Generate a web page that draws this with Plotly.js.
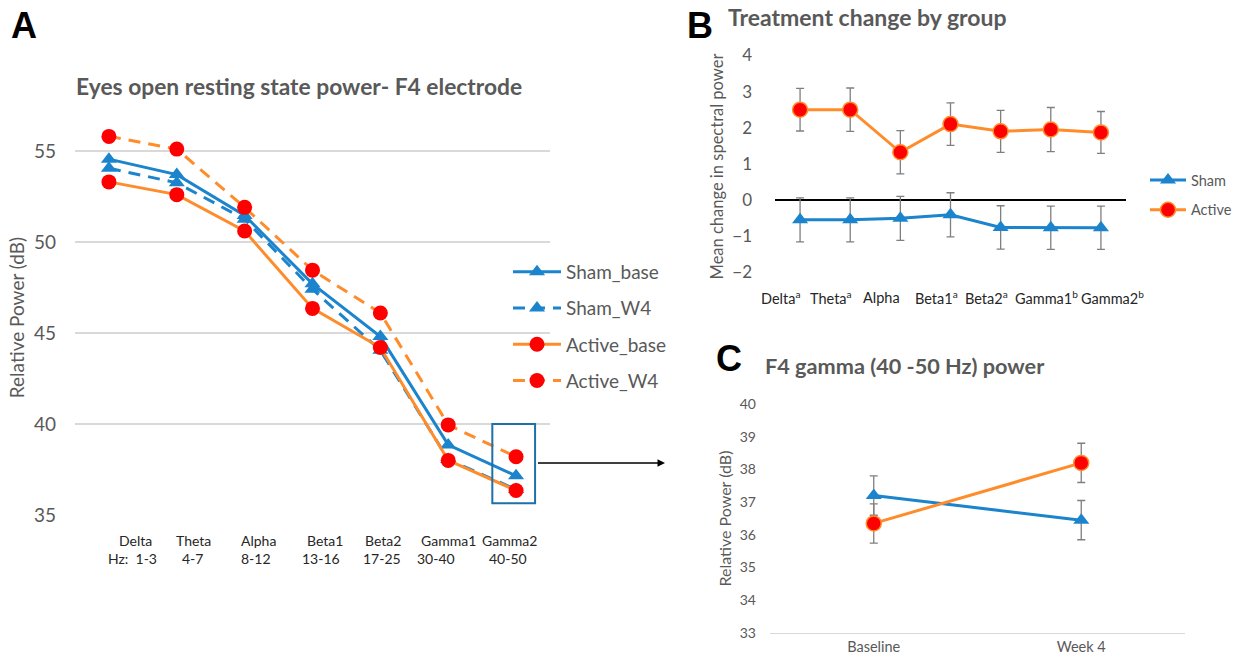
<!DOCTYPE html>
<html>
<head>
<meta charset="utf-8">
<script src="https://cdn.plot.ly/plotly-3.0.1.min.js"></script>
<style>
  html, body { margin: 0; padding: 0; background: #ffffff; }
  #chart { width: 1243px; height: 665px; }
</style>
</head>
<body>
<div id="chart"></div>
<script>
// ---------- DATA ----------
// Panel A
const bands = ['Delta', 'Theta', 'Alpha', 'Beta1', 'Beta2', 'Gamma1', 'Gamma2'];
const bandHz = ['Hz:  1-3', '4-7', '8-12', '13-16', '17-25', '30-40', '40-50'];
const shamBase   = [54.55, 53.7, 51.45, 47.7, 44.8, 38.85, 37.15];
const shamW4     = [54.05, 53.25, 51.25, 47.4, 44.05, 38.05, 36.4];
const activeBase = [53.3, 52.6, 50.6, 46.35, 44.2, 38.0, 36.35];
const activeW4   = [55.8, 55.1, 51.9, 48.45, 46.1, 39.95, 38.2];
const yTicksA = [35, 40, 45, 50, 55];

// Panel B
const bandLabelsB = ['Delta<sup>a</sup>', 'Theta<sup>a</sup>', 'Alpha', 'Beta1<sup>a</sup>', 'Beta2<sup>a</sup>', 'Gamma1<sup>b</sup>', 'Gamma2<sup>b</sup>'];
const shamChange   = [-0.55, -0.55, -0.51, -0.41, -0.76, -0.77, -0.77];
const shamChangeErr = [0.61, 0.61, 0.61, 0.61, 0.6, 0.6, 0.6];
const activeChange = [2.5, 2.5, 1.32, 2.1, 1.9, 1.95, 1.87];
const activeChangeErr = [0.59, 0.6, 0.6, 0.59, 0.58, 0.61, 0.58];
const yTicksB = [-2, -1, 0, 1, 2, 3, 4];

// Panel C
const timepoints = ['Baseline', 'Week 4'];
const shamGamma = [37.2, 36.45];
const shamGammaErr = [0.6, 0.6];
const activeGamma = [36.35, 38.2];
const activeGammaErr = [0.6, 0.6];
const yTicksC = [33, 34, 35, 36, 37, 38, 39, 40];

// ---------- STYLE / LAYOUT HELPERS ----------
const W = 1243, H = 665;
const px = v => v / W;          // pixel x -> paper
const py = v => 1 - v / H;      // pixel y -> paper
const BLUE = '#1b84cc';
const ORANGE = '#ff8c2b';
const RED = '#ff0000';
const GRAY = '#595959';
const ERR = '#7f7f7f';
const FONT = 'Lato, "Open Sans", sans-serif';

// label centres (pixels) for the hand-placed category text
const nameXA = [135, 193, 258.7, 325, 383, 448, 509];
const hzXA   = [132.5, 192.5, 256, 321, 382, 436, 507.5];
const nameXB = [780, 831, 881.5, 937, 986, 1046, 1112];

const triMarker = {symbol: 'triangle-up', size: 14, color: BLUE};
const dotMarkerA = {symbol: 'circle', size: 15, color: RED};
const dotMarkerB = {symbol: 'circle', size: 15, color: RED, line: {color: ORANGE, width: 1.5}};

const traces = [
  // Panel A
  {x: bands, y: shamBase, name: 'Sham_base', type: 'scatter', mode: 'lines+markers',
   line: {color: BLUE, width: 3}, marker: triMarker, xaxis: 'x', yaxis: 'y', legend: 'legend', legendgroup: 'a1'},
  {x: bands, y: shamW4, name: 'Sham_W4', type: 'scatter', mode: 'lines+markers',
   line: {color: BLUE, width: 3, dash: '12px,8px'}, marker: triMarker, xaxis: 'x', yaxis: 'y', legend: 'legend', legendgroup: 'a2'},
  {x: bands, y: activeBase, name: 'Active_base', type: 'scatter', mode: 'lines+markers',
   line: {color: ORANGE, width: 3}, marker: dotMarkerA, xaxis: 'x', yaxis: 'y', legend: 'legend', legendgroup: 'a3'},
  {x: bands, y: activeW4, name: 'Active_W4', type: 'scatter', mode: 'lines+markers',
   line: {color: ORANGE, width: 3, dash: '12px,8px'}, marker: dotMarkerA, xaxis: 'x', yaxis: 'y', legend: 'legend', legendgroup: 'a4'},
  // Panel B
  {x: bands, y: shamChange, name: 'Sham', type: 'scatter', mode: 'lines+markers',
   error_y: {type: 'data', array: shamChangeErr, color: ERR, thickness: 1.3, width: 4},
   line: {color: BLUE, width: 3}, marker: triMarker, xaxis: 'x2', yaxis: 'y2', legend: 'legend2', legendgroup: 'b1'},
  {x: bands, y: activeChange, name: 'Active', type: 'scatter', mode: 'lines+markers',
   error_y: {type: 'data', array: activeChangeErr, color: ERR, thickness: 1.3, width: 4},
   line: {color: ORANGE, width: 3}, marker: dotMarkerB, xaxis: 'x2', yaxis: 'y2', legend: 'legend2', legendgroup: 'b2'},
  // Panel C
  {x: timepoints, y: shamGamma, name: 'Sham', type: 'scatter', mode: 'lines+markers', showlegend: false,
   error_y: {type: 'data', array: shamGammaErr, color: ERR, thickness: 1.3, width: 4},
   line: {color: BLUE, width: 3}, marker: triMarker, xaxis: 'x3', yaxis: 'y3'},
  {x: timepoints, y: activeGamma, name: 'Active', type: 'scatter', mode: 'lines+markers', showlegend: false,
   error_y: {type: 'data', array: activeGammaErr, color: ERR, thickness: 1.3, width: 4},
   line: {color: ORANGE, width: 3}, marker: dotMarkerB, xaxis: 'x3', yaxis: 'y3'}
];

const annotations = [];
// panel letters
[['A', 9, 25], ['B', 685, 25], ['C', 714, 358]].forEach(([t, x, y]) => {
  annotations.push({text: '<b>' + t + '</b>', xref: 'paper', yref: 'paper', x: px(x), y: py(y),
    xanchor: 'left', yanchor: 'middle', showarrow: false,
    font: {family: '"Liberation Sans", Arial, sans-serif', size: 36, color: '#000000'}});
});
// panel titles B, C
annotations.push({text: '<b>Treatment change by group</b>', xref: 'paper', yref: 'paper', x: px(726), y: py(17),
  xanchor: 'left', yanchor: 'middle', showarrow: false, font: {family: FONT, size: 23, color: GRAY}});
annotations.push({text: '<b>F4 gamma (40 -50 Hz) power</b>', xref: 'paper', yref: 'paper', x: px(763), y: py(366),
  xanchor: 'left', yanchor: 'middle', showarrow: false, font: {family: FONT, size: 21.7, color: GRAY}});
// Panel A category labels
bands.forEach((b, i) => {
  annotations.push({text: b, xref: 'paper', yref: 'paper', x: px(nameXA[i]), y: py(540),
    xanchor: 'center', yanchor: 'middle', showarrow: false, font: {family: FONT, size: 14, color: '#262626'}});
  annotations.push({text: bandHz[i], xref: 'paper', yref: 'paper', x: px(hzXA[i]), y: py(558),
    xanchor: 'center', yanchor: 'middle', showarrow: false, font: {family: FONT, size: 14, color: '#262626'}});
});
// Panel B category labels
bandLabelsB.forEach((b, i) => {
  annotations.push({text: b, xref: 'paper', yref: 'paper', x: px(nameXB[i]), y: py(297),
    xanchor: 'center', yanchor: 'middle', showarrow: false, font: {family: FONT, size: 14.5, color: '#262626'}});
});
// arrow from box to panel C
annotations.push({text: ' ', xref: 'paper', yref: 'paper', x: px(665), y: py(463), ax: -130, ay: 0,
  showarrow: true, arrowhead: 2, arrowsize: 1, arrowwidth: 1.5, arrowcolor: '#000000'});

const layout = {
  width: W, height: H,
  margin: {l: 0, r: 0, t: 0, b: 0},
  paper_bgcolor: '#ffffff', plot_bgcolor: 'rgba(0,0,0,0)',
  font: {family: FONT, color: GRAY},
  title: {text: '<b>Eyes open resting state power- F4 electrode</b>', x: px(76), xanchor: 'left',
    y: py(87), yanchor: 'middle', font: {family: FONT, size: 22.8, color: GRAY}},
  showlegend: true,
  xaxis: {domain: [px(75), px(550)], range: [-0.5, 6.5], type: 'category', anchor: 'y',
    showticklabels: false, showgrid: false, zeroline: false, showline: false, ticks: ''},
  yaxis: {domain: [py(515), py(120)], range: [35, 56.7], anchor: 'x', tickvals: yTicksA,
    showgrid: true, gridcolor: '#d9d9d9', gridwidth: 1.2, zeroline: false, showline: false, ticks: '',
    ticklabelstandoff: 18, tickfont: {family: FONT, size: 19, color: GRAY},
    title: {text: 'Relative Power (dB)', font: {family: FONT, size: 19, color: GRAY}, standoff: 4}},
  xaxis2: {domain: [px(775), px(1126)], range: [-0.5, 6.5], type: 'category', anchor: 'y2',
    showticklabels: false, showgrid: false, zeroline: false, showline: false, ticks: ''},
  yaxis2: {domain: [py(285), py(48)], range: [-2.355, 4.208], anchor: 'x2', tickvals: yTicksB,
    showgrid: false, zeroline: true, zerolinecolor: '#000000', zerolinewidth: 1.3, showline: false, ticks: '',
    ticklabelstandoff: 22, tickfont: {family: FONT, size: 17, color: GRAY},
    title: {text: 'Mean change in spectral power', font: {family: FONT, size: 16.5, color: GRAY}, standoff: 4}},
  xaxis3: {domain: [px(770), px(1185)], range: [-0.5, 1.5], type: 'category', anchor: 'y3',
    showgrid: false, zeroline: false, showline: true, linecolor: '#d9d9d9', linewidth: 1.2, ticks: '',
    tickfont: {family: FONT, size: 14.5, color: GRAY}},
  yaxis3: {domain: [py(633), py(404)], range: [33, 40], anchor: 'x3', tickvals: yTicksC,
    showgrid: false, zeroline: false, showline: false, ticks: '',
    ticklabelstandoff: 13, tickfont: {family: FONT, size: 14, color: GRAY},
    title: {text: 'Relative Power (dB)', font: {family: FONT, size: 16, color: GRAY}, standoff: 4}},
  legend: {x: px(508), y: py(253), xanchor: 'left', yanchor: 'top', bgcolor: 'rgba(0,0,0,0)',
    font: {family: FONT, size: 19, color: GRAY}, itemwidth: 48, tracegroupgap: 8.5, traceorder: 'grouped'},
  legend2: {x: px(1145), y: py(164), xanchor: 'left', yanchor: 'top', bgcolor: 'rgba(0,0,0,0)',
    font: {family: FONT, size: 14.5, color: GRAY}, itemwidth: 36, tracegroupgap: 8, traceorder: 'grouped'},
  shapes: [
    {type: 'rect', xref: 'x', yref: 'y', x0: 5.65, x1: 6.28, y0: 35.65, y1: 40.0,
     line: {color: '#1f6fa8', width: 2}, fillcolor: 'rgba(0,0,0,0)'}
  ],
  annotations: annotations
};

Plotly.newPlot('chart', traces, layout, {displayModeBar: false, staticPlot: true});
</script>
</body>
</html>
